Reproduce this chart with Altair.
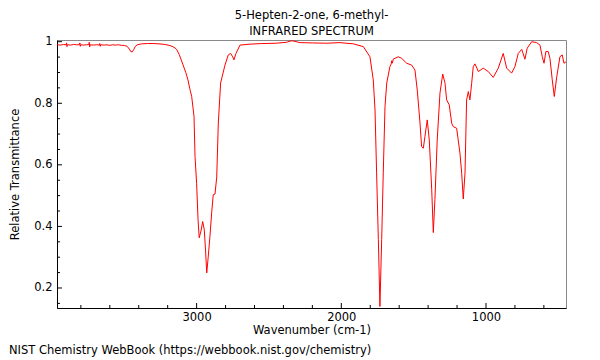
import altair as alt
import pandas as pd

# Wavenumber (cm-1) and relative transmittance
wavenumber = [
    3965, 3940, 3920, 3902, 3899, 3896, 3893, 3870, 3850, 3830, 3810, 3807, 3804, 3801,
    3780, 3760, 3745, 3742, 3739, 3736, 3715, 3690, 3672, 3669, 3666, 3663, 3640, 3620,
    3600, 3580, 3560, 3540, 3520, 3500, 3480, 3465, 3455, 3445, 3435, 3425, 3410, 3380,
    3340, 3300, 3260, 3220, 3190, 3170, 3150, 3138, 3120, 3094, 3075, 3060, 3046, 3034,
    3018, 3011, 3000, 2990, 2982, 2970, 2958, 2947, 2938, 2930, 2920, 2908, 2896, 2885,
    2873, 2861, 2850, 2834, 2804, 2781, 2765, 2751, 2742, 2728, 2700, 2631, 2550, 2450,
    2380, 2343, 2320, 2286, 2200, 2100, 2009, 1917, 1848, 1802, 1779, 1767, 1756, 1744,
    1733, 1721, 1710, 1698, 1686, 1664, 1655, 1652, 1648, 1640, 1629, 1606, 1583, 1548,
    1514, 1491, 1475, 1456, 1445, 1433, 1422, 1406, 1392, 1375, 1364, 1353, 1337, 1318,
    1299, 1283, 1272, 1254, 1237, 1226, 1203, 1192, 1180, 1168, 1157, 1145, 1134, 1122,
    1111, 1099, 1088, 1076, 1053, 1019, 984, 950, 915, 881, 857, 823, 800, 777, 753, 731,
    715, 684, 650, 627, 611, 599, 586, 570, 558, 542, 528, 511, 489, 473, 461, 447,
]
transmittance = [
    0.990, 0.989, 0.991, 0.990, 0.996, 0.984, 0.990, 0.989, 0.991, 0.990, 0.990, 0.996, 0.985, 0.990,
    0.989, 0.990, 0.991, 0.998, 0.983, 0.990, 0.989, 0.990, 0.989, 0.994, 0.985, 0.990, 0.989, 0.990,
    0.988, 0.990, 0.989, 0.990, 0.988, 0.988, 0.985, 0.976, 0.968, 0.967, 0.974, 0.984, 0.990, 0.993,
    0.994, 0.994, 0.993, 0.991, 0.988, 0.985, 0.980, 0.975, 0.958, 0.925, 0.900, 0.876, 0.845, 0.822,
    0.757, 0.627, 0.540, 0.420, 0.363, 0.385, 0.416, 0.389, 0.320, 0.249, 0.300, 0.367, 0.444, 0.503,
    0.505, 0.560, 0.736, 0.866, 0.924, 0.957, 0.962, 0.951, 0.941, 0.962, 0.989, 0.992, 0.994, 0.995,
    0.998, 1.003, 1.001, 0.997, 0.996, 0.995, 0.997, 0.993, 0.984, 0.951, 0.876, 0.778, 0.574, 0.357,
    0.140, 0.357, 0.574, 0.789, 0.866, 0.919, 0.928, 0.938, 0.930, 0.944, 0.946, 0.951, 0.946, 0.930,
    0.924, 0.908, 0.843, 0.736, 0.659, 0.654, 0.692, 0.746, 0.681, 0.519, 0.380, 0.487, 0.681, 0.833,
    0.895, 0.865, 0.811, 0.795, 0.735, 0.724, 0.719, 0.681, 0.638, 0.573, 0.489, 0.573, 0.811, 0.838,
    0.811, 0.865, 0.919, 0.928, 0.903, 0.914, 0.903, 0.884, 0.914, 0.962, 0.914, 0.898, 0.919, 0.962, 0.975, 0.943,
    0.979, 1.000, 0.997, 0.989, 0.951, 0.930, 0.968, 0.968, 0.946, 0.876, 0.822, 0.886, 0.951, 0.957, 0.930, 0.935,
]

x_major = [1000, 2000, 3000]
x_minor = [600, 800, 1200, 1400, 1600, 1800, 2200, 2400, 2600, 2800, 3200, 3400, 3600, 3800]
y_major = [0.2, 0.4, 0.6, 0.8, 1.0]
y_minor = [0.15, 0.25, 0.3, 0.35, 0.45, 0.5, 0.55, 0.65, 0.7, 0.75, 0.85, 0.9, 0.95]

title_lines = ["5-Hepten-2-one, 6-methyl-", "INFRARED SPECTRUM"]
x_title = "Wavenumber (cm-1)"
y_title = "Relative Transmittance"
footer = "NIST Chemistry WebBook (https://webbook.nist.gov/chemistry)"

FONT = "DejaVu Sans"
FS = 11.5
W, H = 509, 268

spec = pd.DataFrame({"wn": wavenumber, "t": transmittance})

xscale = alt.Scale(domain=[447, 3965], reverse=True, nice=False, zero=False)
yscale = alt.Scale(domain=[0.135, 1.0055], nice=False, zero=False)

line = alt.Chart(spec).mark_line(color="#ff0000", strokeWidth=1, clip=True).encode(
    x=alt.X("wn:Q", scale=xscale,
            axis=alt.Axis(values=x_major, ticks=False, grid=False, title=x_title,
                          format="d", domainColor="black", labelFont=FONT, labelFontSize=FS,
                          labelColor="black", labelPadding=3, titleFont=FONT,
                          titleFontSize=FS, titleFontWeight="normal", titleColor="black",
                          titlePadding=2)),
    y=alt.Y("t:Q", scale=yscale,
            axis=alt.Axis(values=y_major, ticks=False, grid=False, title=y_title,
                          format="~g", domainColor="black", labelFont=FONT,
                          labelFontSize=FS, labelColor="black", labelPadding=5,
                          titleFont=FONT, titleFontSize=FS, titleFontWeight="normal",
                          titleColor="black", titlePadding=13)),
)

xmaj = alt.Chart(pd.DataFrame({"v": x_major})).mark_rule(color="black", strokeWidth=1).encode(
    x=alt.X("v:Q", scale=xscale), y=alt.value(H), y2=alt.value(H - 5))
xmin = alt.Chart(pd.DataFrame({"v": x_minor})).mark_rule(color="black", strokeWidth=1).encode(
    x=alt.X("v:Q", scale=xscale), y=alt.value(H), y2=alt.value(H - 3))
ymaj = alt.Chart(pd.DataFrame({"v": y_major})).mark_rule(color="black", strokeWidth=1).encode(
    y=alt.Y("v:Q", scale=yscale), x=alt.value(0), x2=alt.value(5))
ymin = alt.Chart(pd.DataFrame({"v": y_minor})).mark_rule(color="black", strokeWidth=1).encode(
    y=alt.Y("v:Q", scale=yscale), x=alt.value(0), x2=alt.value(3))

foot = alt.Chart(pd.DataFrame({"s": [footer]})).mark_text(
    align="left", baseline="middle", font=FONT, fontSize=FS, color="black"
).encode(x=alt.value(-48), y=alt.value(311), text="s:N")

chart = alt.layer(line, xmaj, xmin, ymaj, ymin, foot).properties(
    width=W, height=H,
    title=alt.TitleParams(text=title_lines, font=FONT, fontSize=FS, fontWeight="normal",
                          color="black", anchor="middle", offset=-1.5, lineHeight=16),
    autosize=alt.AutoSizeParams(type="none"),
    padding={"left": 49, "top": 32, "right": 26, "bottom": 50},
).configure_view(stroke="#888888", strokeWidth=1)

chart.save("out.html", embed_options={"renderer": "svg", "actions": False})
